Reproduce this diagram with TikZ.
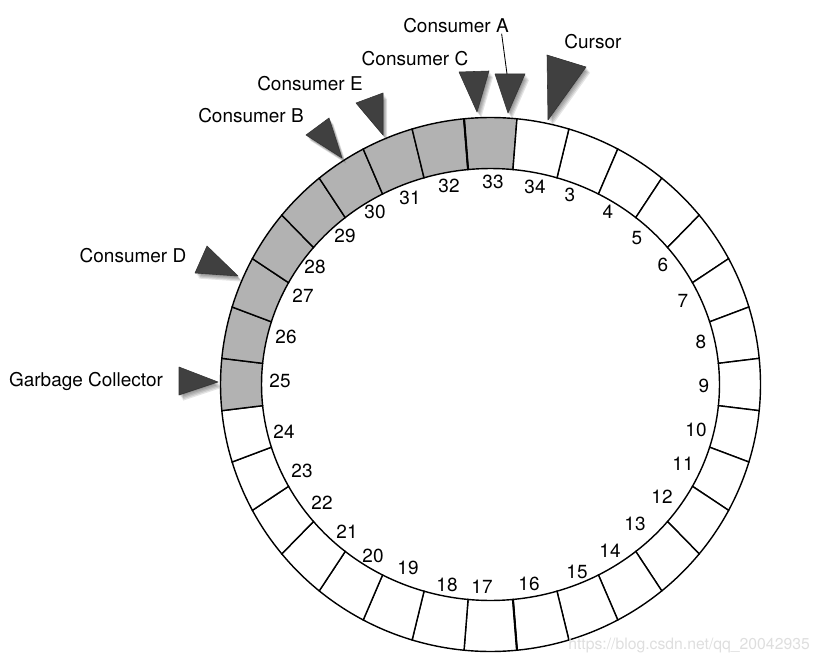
\documentclass[tikz,border=0pt]{standalone}
\usepackage{fontspec}
\setmainfont{TeX Gyre Heros}
\usepackage{tikz}
\usetikzlibrary{positioning}
\definecolor{usedSlot}{RGB}{178,178,178}
\definecolor{pointerColor}{RGB}{64,64,64}
\definecolor{markColor}{RGB}{222,222,222}
\tikzstyle{ringPic} = [x = .025cm, y = -.025cm]
\tikzstyle{slotStyle} = [draw=black, line width=1pt]
\tikzstyle{slotText} = [font=\fontsize{13.5}{16}\selectfont, text height=.72em, text depth=0pt, inner sep=0pt]
\tikzstyle{consumerText} = [font=\fontsize{13.5}{16}\selectfont, text height=.72em, text depth=0pt, inner sep=1pt]
\tikzstyle{markText} = [font=\fontsize{11.2}{13}\selectfont, color=markColor, inner sep=0pt]
\tikzstyle{pointerStyle} = [fill=pointerColor, draw=black!80, line width=.4pt, line join=round]
\tikzstyle{pointerShadow} = [fill=black, opacity=.1]
\newcommand{\ringSlot}[2]{
  \pgfmathsetmacro{\slotA}{#1 - 5.625}
  \pgfmathsetmacro{\slotB}{#1 + 5.625}
  \filldraw [slotStyle, fill=#2] (\slotA:270 and 267) arc [start angle=\slotA, end angle=\slotB, x radius=270, y radius=267]
    -- (\slotB:229 and 216) arc [start angle=\slotB, end angle=\slotA, x radius=229, y radius=216] -- cycle;
}
\newcommand{\pointerShape}[4]{
  \foreach \s in {1,...,5} {
    \fill [pointerShadow, shift={(\s*0.6pt, -\s*0.8pt)}] (#2) -- (#3) -- (#4) -- cycle;
  }
  \filldraw [pointerStyle] (#2) -- (#3) -- (#4) -- cycle;
  \coordinate (#1) at (#4);
}
\begin{document}
\begin{tikzpicture}[ringPic]
  \useasboundingbox (0,0) rectangle (820,663);
  % ring buffer
  \begin{scope}[shift={(490.5,384.5)}]
    \foreach \slot in {3,...,34} {
      \pgfmathsetmacro{\ang}{(\slot - 1) * 11.25 - 90}
      \ifnum\slot>24
        \ifnum\slot<34
          \ringSlot{\ang}{usedSlot}
        \else
          \ringSlot{\ang}{white}
        \fi
      \else
        \ringSlot{\ang}{white}
      \fi
    }
    \draw [line width=1.5pt] (84.375:229 and 216) -- (84.375:270 and 267);
    \draw [line width=1.5pt] (264.375:229 and 216) -- (264.375:270 and 267);
  \end{scope}
  % slot numbers
  \foreach \slot/\px/\py in {33/493/183, 34/535/188, 3/570/196, 4/608/213, 5/637/239, 6/663/266,
      7/683/302, 8/701/343, 9/704/387, 10/696/431, 11/683/465, 12/662/498, 13/635/525,
      14/610/552, 15/577/573, 16/529/585, 17/482/588, 18/447/586, 19/408/569, 20/373/557,
      21/347/533, 22/322/504, 23/302/472, 24/284/433, 25/280/382, 26/286/338, 27/303/297,
      28/315/268, 29/345/237, 30/375/213, 31/410/199, 32/449/187} {
    \node [slotText] (slot\slot) at (\px,\py) {\slot};
  }
  % pointers
  \pointerShape{cursorHead}{547,55}{586,67}{548,120}
  \pointerShape{pointerAHead}{495,74}{525,74}{508,113}
  \pointerShape{pointerCHead}{459,72}{489,71}{477,112}
  \pointerShape{pointerEHead}{356,103}{383,93}{383,135}
  \pointerShape{pointerBHead}{306,135}{329,118}{342,158}
  \pointerShape{pointerDHead}{195,273}{207,246}{238,276}
  \pointerShape{collectorHead}{179,367}{179,395}{218,382}
  \coordinate (pointerATop) at (507,74);
  % labels
  \node [consumerText] (cursorLabel) at (593,43) {Cursor};
  \node [consumerText] (consumerA) at (456,27) {Consumer A};
  \node [consumerText] (consumerC) at (415,60) {Consumer C};
  \node [consumerText] (consumerE) at (310,85) {Consumer E};
  \node [consumerText] (consumerB) at (251,117) {Consumer B};
  \node [consumerText] (consumerD) at (133,257) {Consumer D};
  \node [consumerText] (collectorLabel) at (86,381) {Garbage Collector};
  \draw [line width=.6pt] ([xshift=-.22cm]consumerA.south east) -- (pointerATop);
  \node [markText] (blogMark) at (689,645) {https://blog.csdn.net/qq\_20042935};
\end{tikzpicture}
\end{document}
